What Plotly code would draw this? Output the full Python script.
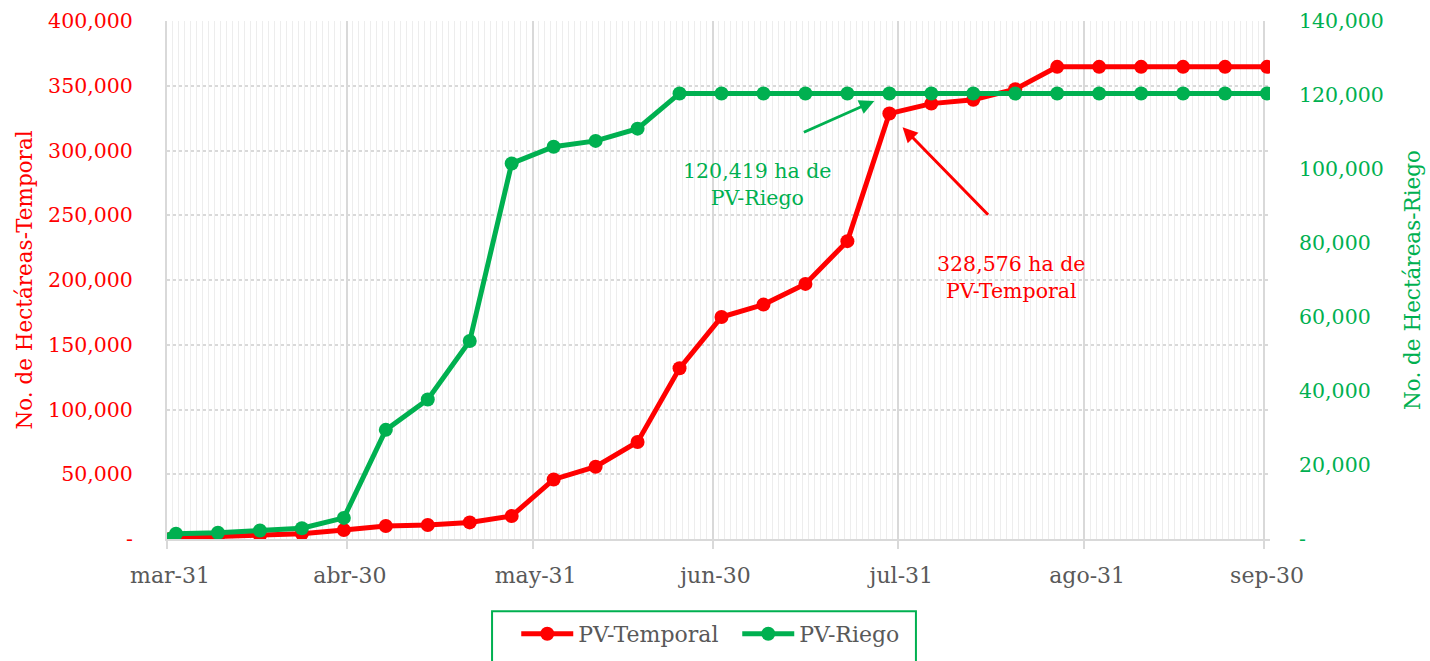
import plotly.graph_objects as go
import pandas as pd

dates = ["2021-03-31", "2021-04-01", "2021-04-08", "2021-04-15", "2021-04-22", "2021-04-29",
         "2021-05-06", "2021-05-13", "2021-05-20", "2021-05-27", "2021-06-03", "2021-06-10",
         "2021-06-17", "2021-06-24", "2021-07-01", "2021-07-08", "2021-07-15", "2021-07-22",
         "2021-07-29", "2021-08-05", "2021-08-12", "2021-08-19", "2021-08-26", "2021-09-02",
         "2021-09-09", "2021-09-16", "2021-09-23", "2021-09-30"]

pv_temporal = [0, 1000, 2000, 2800, 4000, 7000, 10000, 10800, 12800, 17800, 46000, 55800,
               74900, 131800, 171400, 181000, 197000, 230000, 328576, 336200, 339200, 347300,
               364600, 364600, 364600, 364600, 364600, 364600]

pv_riego = [0, 1400, 1700, 2300, 2900, 5700, 29500, 37700, 53500, 101500, 106000, 107600,
            110900, 120419, 120419, 120419, 120419, 120419, 120419, 120419, 120419, 120419,
            120419, 120419, 120419, 120419, 120419, 120419]

month_ticks = ["2021-03-31", "2021-04-30", "2021-05-31", "2021-06-30", "2021-07-31", "2021-08-31", "2021-09-30"]
month_labels = ["mar-31", "abr-30", "may-31", "jun-30", "jul-31", "ago-31", "sep-30"]

left_ticks = [0, 50000, 100000, 150000, 200000, 250000, 300000, 350000, 400000]
right_ticks = [0, 20000, 40000, 60000, 80000, 100000, 120000, 140000]

def fmt(v):
    return "-" if v == 0 else f"{v:,}"

RED = "#FF0000"
GREEN = "#00B050"
GREY = "#595959"
FONT = "DejaVu Serif"

x = pd.to_datetime(dates) + pd.Timedelta(hours=12)

fig = go.Figure()
fig.add_trace(go.Scatter(x=x, y=pv_temporal, name="PV-Temporal", mode="lines+markers",
                         line=dict(color=RED, width=5), marker=dict(size=14, color=RED)))
fig.add_trace(go.Scatter(x=x, y=pv_riego, name="PV-Riego", mode="lines+markers", yaxis="y2",
                         line=dict(color=GREEN, width=5), marker=dict(size=14, color=GREEN)))

fig.update_layout(
    width=1430, height=661,
    margin=dict(l=167, r=160, t=21, b=122),
    paper_bgcolor="white", plot_bgcolor="white",
    font=dict(family=FONT, size=22, color=GREY),
    xaxis=dict(
        type="date", range=["2021-03-31", "2021-10-01"], automargin=False,
        tickmode="array", tickvals=month_ticks, ticktext=month_labels,
        ticks="outside", ticklen=8, tickcolor="#d9d9d9", tickwidth=2,
        ticklabelshift=3, ticklabelstandoff=8,
        tickfont=dict(family=FONT, size=22, color=GREY),
        showgrid=True, gridcolor="#d9d9d9", gridwidth=2,
        minor=dict(dtick=86400000, tick0="2021-03-31", showgrid=True, gridcolor="#ededed", gridwidth=1),
        showline=True, linecolor="#d9d9d9", linewidth=2, zeroline=False,
    ),
    yaxis=dict(
        range=[0, 400000], tickmode="array", tickvals=left_ticks, automargin=False,
        ticktext=[fmt(v) for v in left_ticks],
        tickfont=dict(family=FONT, size=20.5, color=RED),
        ticklabelstandoff=28,
        showgrid=True, gridcolor="#d9d9d9", gridwidth=1.5, griddash="3px,3px",
        showline=True, linecolor="#d9d9d9", linewidth=2, zeroline=False,
        title=dict(text="No. de Hectáreas-Temporal", font=dict(family=FONT, size=21.5, color=RED), standoff=10),
    ),
    yaxis2=dict(
        range=[0, 140000], overlaying="y", side="right", tickmode="array", tickvals=right_ticks,
        ticktext=[fmt(v) for v in right_ticks], automargin=False,
        tickfont=dict(family=FONT, size=20.5, color=GREEN),
        ticklabelstandoff=28,
        showgrid=False, showline=False, zeroline=False,
        title=dict(text="No. de Hectáreas-Riego", font=dict(family=FONT, size=21.5, color=GREEN), standoff=22),
    ),
    legend=dict(orientation="h", x=0.517, xanchor="center", yref="container", y=0.041, yanchor="middle",
                font=dict(family=FONT, size=22, color=GREY), itemwidth=52, entrywidth=154,
                bgcolor="rgba(0,0,0,0)"),
    showlegend=True,
)

fig.add_shape(type="rect", xref="paper", yref="paper", x0=0.2947, x1=0.679, y0=-0.1395, y1=-0.30,
              line=dict(color=GREEN, width=2), fillcolor="rgba(0,0,0,0)", layer="above")

# arrows
fig.add_annotation(x="2021-07-27", y=118400, xref="x", yref="y2", text="", showarrow=True,
                   ax=-72, ay=32, arrowhead=2, arrowsize=1, arrowwidth=3, arrowcolor=GREEN)
fig.add_annotation(x="2021-07-31 17:00", y=318000, xref="x", yref="y", text="", showarrow=True,
                   ax=87, ay=89, arrowhead=2, arrowsize=1, arrowwidth=3, arrowcolor=RED)

fig.add_annotation(x=0.535, y=0.685, xref="paper", yref="paper", xanchor="center", yanchor="middle",
                   showarrow=False,
                   text="120,419 ha de<br>PV-Riego", font=dict(family=FONT, size=20.5, color=GREEN),
                   align="center")
fig.add_annotation(x=0.7655, y=0.505, xref="paper", yref="paper", xanchor="center", yanchor="middle",
                   showarrow=False,
                   text="328,576 ha de<br>PV-Temporal", font=dict(family=FONT, size=20.5, color=RED),
                   align="center")

fig.write_html("out.html", config={"displayModeBar": False},
               post_script="document.body.style.margin='0';document.body.style.overflow='hidden';")
